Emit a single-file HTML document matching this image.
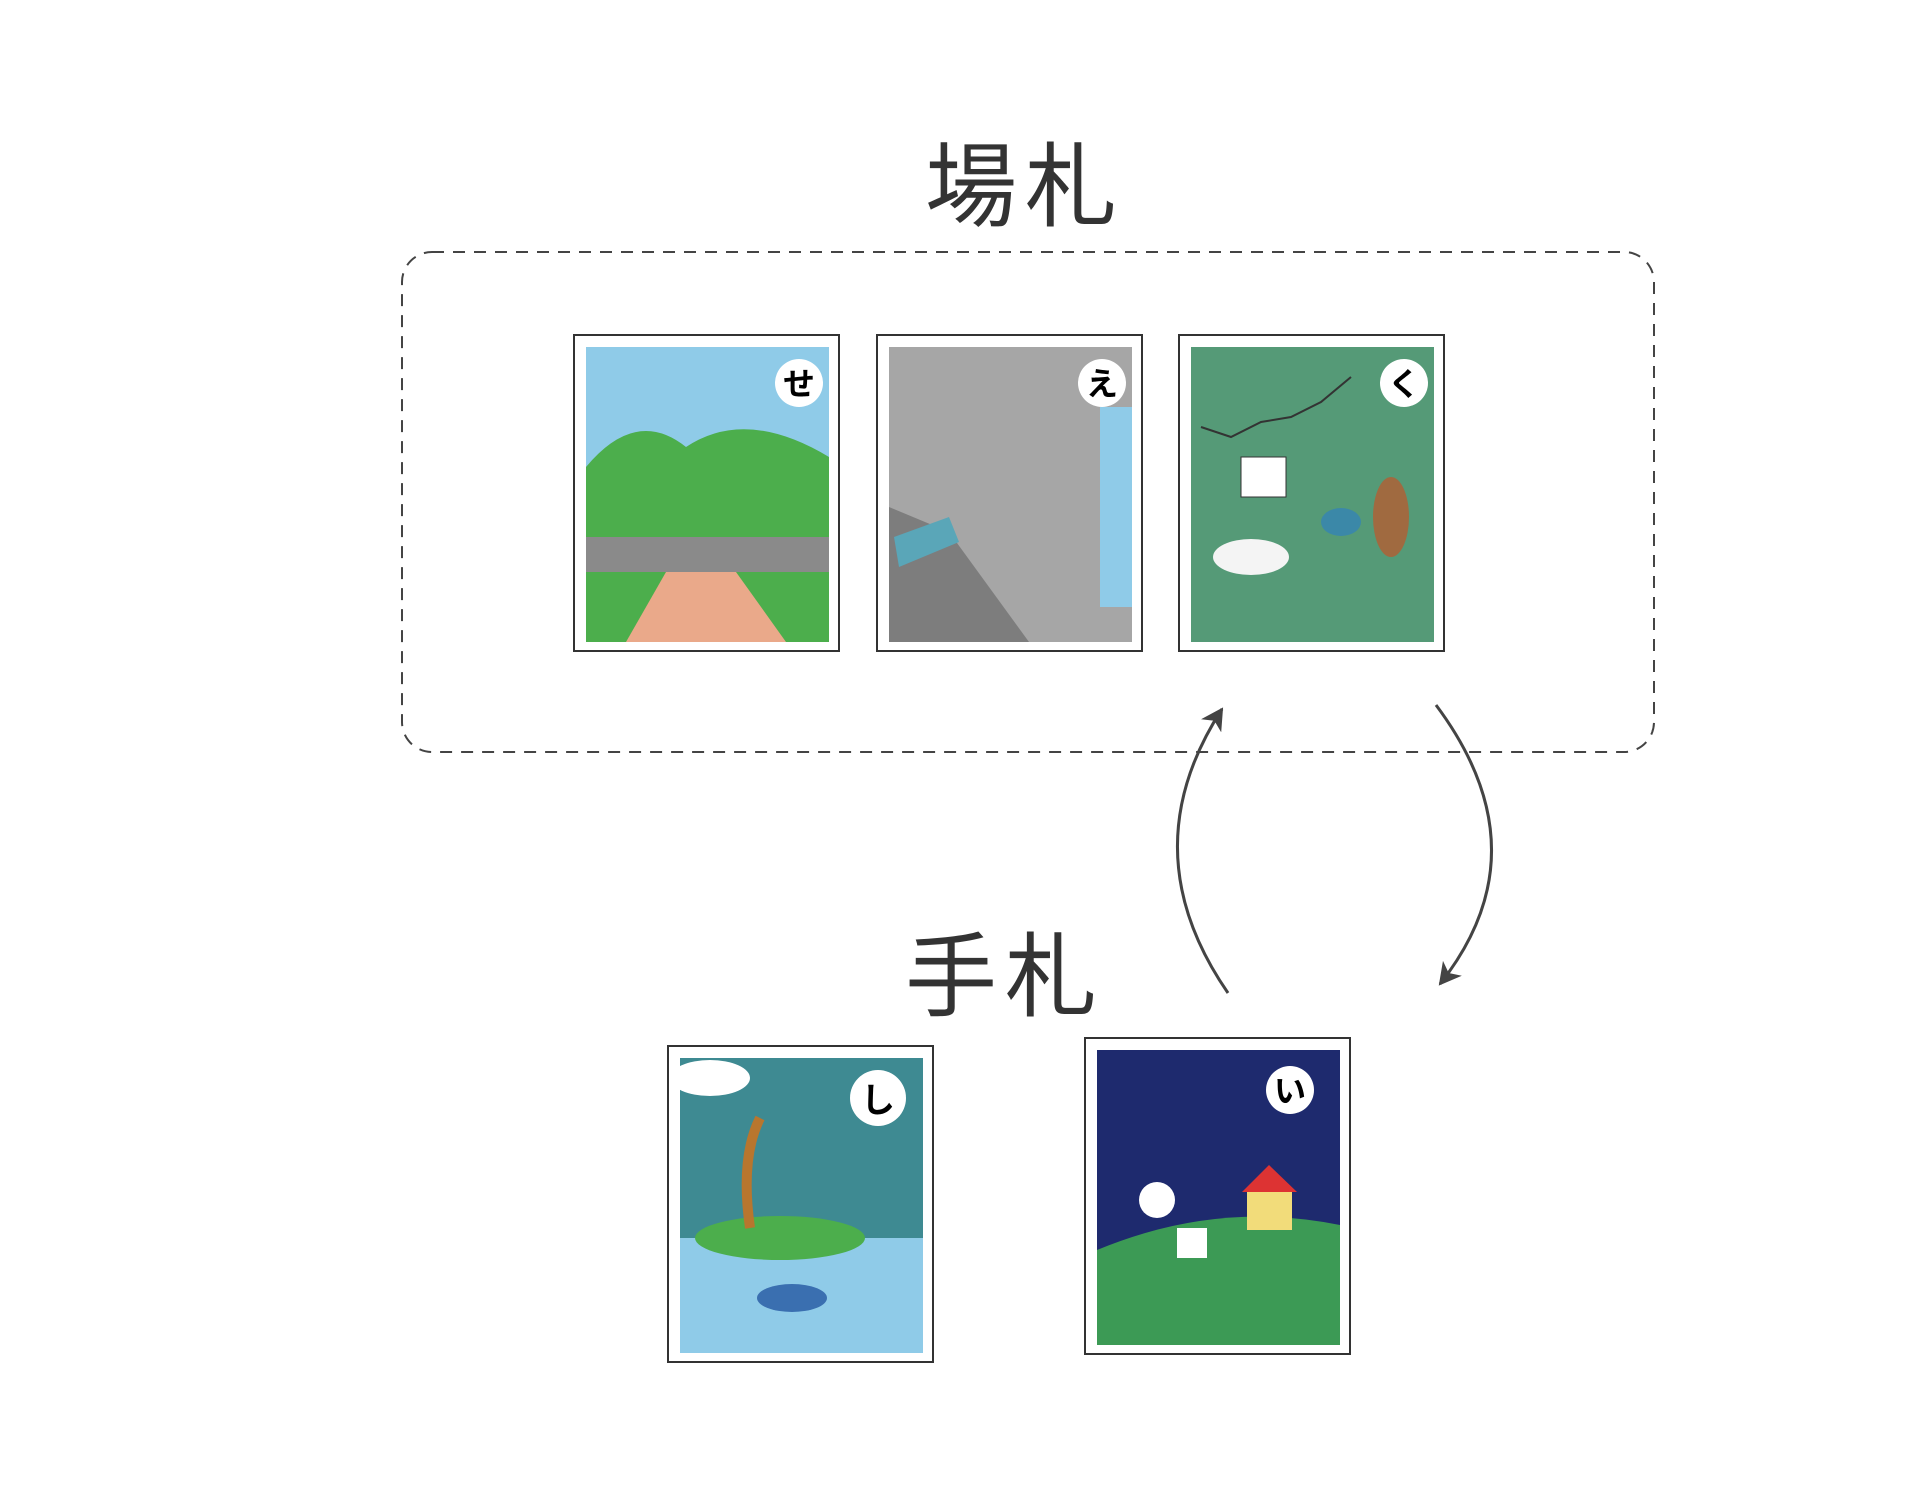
<!DOCTYPE html>
<html><head><meta charset="utf-8"><style>
body{margin:0;width:1931px;height:1494px;background:#fff;position:relative;overflow:hidden;font-family:"Liberation Sans","Noto Sans CJK JP",sans-serif}
.t{position:absolute;font-size:92px;color:#333;font-weight:400;letter-spacing:8px;line-height:1}
.card{position:absolute;width:267px;height:318px;border:2px solid #333;background:#fff;box-sizing:border-box}
.card svg{position:absolute;left:11px;top:11px}
</style></head><body>
<div class="t" style="left:925px;top:142px">場札</div>
<div class="t" style="left:905px;top:932px">手札</div>
<svg width="1931" height="1494" style="position:absolute;left:0;top:0">
<defs><marker id="a" markerWidth="24" markerHeight="24" refX="20" refY="12" orient="auto" markerUnits="userSpaceOnUse"><path d="M0,0 L22,12 L0,24 L6,12z" fill="#444"/></marker></defs>
<rect x="402" y="252" width="1252" height="500" rx="30" fill="none" stroke="#444" stroke-width="2" stroke-dasharray="12,9"/>
<path d="M1228,993 Q1130,851 1222,709" fill="none" stroke="#444" stroke-width="3" marker-end="url(#a)"/>
<path d="M1436,705 Q1545,851 1440,984" fill="none" stroke="#444" stroke-width="3" marker-end="url(#a)"/>
</svg>

<div class="card" style="left:573px;top:334px"><svg width="243" height="295">
<rect width="243" height="295" fill="#8fcbe8"/>
<path d="M0,120 Q50,60 100,100 Q160,60 243,110 L243,295 L0,295z" fill="#4cae4c"/>
<rect y="190" width="243" height="35" fill="#8a8a8a"/>
<path d="M80,225 L150,225 L200,295 L40,295z" fill="#eaa98a"/>
<circle cx="213" cy="36" r="24" fill="#fff"/><text x="213" y="48" font-size="32" font-weight="bold" text-anchor="middle" font-family="Noto Sans CJK JP">せ</text>
</svg></div>

<div class="card" style="left:876px;top:334px"><svg width="243" height="295">
<rect width="243" height="295" fill="#a6a6a6"/>
<rect x="211" y="60" width="32" height="200" fill="#8fcbe8"/>
<path d="M0,160 L60,185 L140,295 L0,295z" fill="#7d7d7d"/>
<path d="M5,190 L60,170 L70,195 L10,220z" fill="#5aa6b8"/>
<circle cx="213" cy="36" r="24" fill="#fff"/><text x="213" y="48" font-size="32" font-weight="bold" text-anchor="middle" font-family="Noto Sans CJK JP">え</text>
</svg></div>

<div class="card" style="left:1178px;top:334px"><svg width="243" height="295">
<rect width="243" height="295" fill="#559a77"/>
<path d="M10,80 L40,90 L70,75 L100,70 L130,55 L160,30" fill="none" stroke="#333" stroke-width="2"/>
<rect x="50" y="110" width="45" height="40" fill="#fff" stroke="#333"/>
<ellipse cx="60" cy="210" rx="38" ry="18" fill="#f4f4f4"/>
<ellipse cx="150" cy="175" rx="20" ry="14" fill="#3b88a8"/>
<ellipse cx="200" cy="170" rx="18" ry="40" fill="#a06a40"/>
<circle cx="213" cy="36" r="24" fill="#fff"/><text x="213" y="48" font-size="32" font-weight="bold" text-anchor="middle" font-family="Noto Sans CJK JP">く</text>
</svg></div>

<div class="card" style="left:667px;top:1045px"><svg width="243" height="295">
<rect width="243" height="295" fill="#3e8a92"/>
<rect y="180" width="243" height="115" fill="#8fcbe8"/>
<ellipse cx="100" cy="180" rx="85" ry="22" fill="#4cae4c"/>
<path d="M70,170 Q60,100 80,60" stroke="#b8762e" stroke-width="10" fill="none"/>
<ellipse cx="30" cy="20" rx="40" ry="18" fill="#fff"/>
<ellipse cx="112" cy="240" rx="35" ry="14" fill="#3a6fb0"/>
<circle cx="198" cy="40" r="28" fill="#fff"/><text x="198" y="54" font-size="34" font-weight="bold" text-anchor="middle" font-family="Noto Sans CJK JP">し</text>
</svg></div>

<div class="card" style="left:1084px;top:1037px"><svg width="243" height="295">
<rect width="243" height="295" fill="#1e2a6e"/>
<path d="M0,200 Q120,150 243,175 L243,295 L0,295z" fill="#3c9a55"/>
<rect x="150" y="140" width="45" height="40" fill="#f2dc7a"/>
<path d="M145,142 L172,115 L200,142z" fill="#d33"/>
<circle cx="60" cy="150" r="18" fill="#fff"/>
<rect x="80" y="178" width="30" height="30" fill="#fff"/>
<circle cx="193" cy="40" r="24" fill="#fff"/><text x="193" y="52" font-size="32" font-weight="bold" text-anchor="middle" font-family="Noto Sans CJK JP">い</text>
</svg></div>
</body></html>
